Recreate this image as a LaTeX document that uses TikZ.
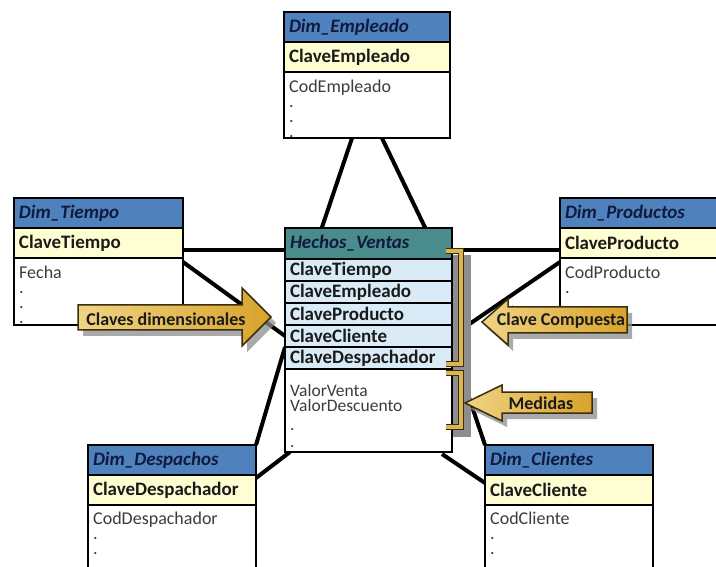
\documentclass[tikz,border=0pt]{standalone}
\usepackage{fontspec}
\setmainfont{Carlito}
\usetikzlibrary{calc}

\definecolor{hdrblue}{HTML}{4F81BD}
\definecolor{hdrteal}{HTML}{4A8B8B}
\definecolor{keyyellow}{HTML}{FFFDD2}
\definecolor{keyblue}{HTML}{D8EBF6}
\definecolor{navytext}{HTML}{101A3E}
\definecolor{keytext}{HTML}{1A1A1A}
\definecolor{bodytext}{HTML}{3C3C3C}
\definecolor{goldlight}{HTML}{F0D383}
\definecolor{golddark}{HTML}{D9A32C}
\definecolor{goldfill}{HTML}{DDB550}
\definecolor{goldedge}{HTML}{3A2E10}
\definecolor{shadowgray}{HTML}{8E8E8E}

\begin{document}
\begin{tikzpicture}[x=1pt,y=-1pt,
  tbl/.style={draw=black, line width=1.4pt, anchor=north west, outer sep=0pt,
    inner xsep=5pt, inner ysep=0pt, align=left},
  dimhdr/.style={tbl, fill=hdrblue, minimum height=30pt, text width=#1,
    font=\fontsize{19}{20}\selectfont\bfseries\itshape, text=navytext},
  factshdr/.style={dimhdr=#1, fill=hdrteal, minimum height=31pt},
  dimkey/.style={tbl, fill=keyyellow, minimum height=30pt, text width=#1,
    font=\fontsize{19}{20}\selectfont\bfseries, text=keytext},
  factkey/.style={dimkey=#1, fill=keyblue, minimum height=22pt},
  bodybox/.style={draw=black, line width=1.4pt, fill=white, anchor=north west,
    outer sep=0pt, inner sep=0pt, minimum width=#1},
  bodytxt/.style={anchor=north west, inner sep=0pt, align=left,
    font=\fontsize{18}{15}\selectfont, text=bodytext},
  link/.style={line width=4pt, black},
  callout/.style={draw=goldedge, line width=1.5pt, line join=miter,
    left color=goldlight, right color=golddark},
  calloutshadow/.style={fill=shadowgray, opacity=0.75},
  calltext/.style={inner sep=0pt, font=\fontsize{18}{20}\selectfont\bfseries, text=keytext},
  bracketedge/.style={line width=6.5pt, goldedge, line join=miter},
  bracketfill/.style={line width=3.8pt, goldfill, line join=miter}
]
\clip (0,0) rectangle (716,567);
\fill[white] (0,0) rectangle (716,567);

% ---------- dimension tables ----------
% Dim_Empleado
\node[dimhdr=156pt] (empH) at (284,12) {Dim\_Empleado};
\node[dimkey=156pt] (empK) at (empH.south west) {ClaveEmpleado};
\node[bodybox=166pt, minimum height=66pt] (empB) at (empK.south west) {};

% Dim_Tiempo
\node[dimhdr=159pt] (tmpH) at (14,198) {Dim\_Tiempo};
\node[dimkey=159pt] (tmpK) at (tmpH.south west) {ClaveTiempo};
\node[bodybox=169pt, minimum height=67pt] (tmpB) at (tmpK.south west) {};

% Dim_Productos
\node[dimhdr=160pt] (prdH) at (560,198) {Dim\_Productos};
\node[dimkey=160pt] (prdK) at (prdH.south west) {ClaveProducto};
\node[bodybox=170pt, minimum height=67pt] (prdB) at (prdK.south west) {};

% Dim_Despachos
\node[dimhdr=158pt] (desH) at (88,445) {Dim\_Despachos};
\node[dimkey=158pt] (desK) at (desH.south west) {ClaveDespachador};
\node[bodybox=168pt, minimum height=90pt] (desB) at (desK.south west) {};

% Dim_Clientes
\node[dimhdr=158pt] (cliH) at (485,445) {Dim\_Clientes};
\node[dimkey=158pt] (cliK) at (cliH.south west) {ClaveCliente};
\node[bodybox=168pt, minimum height=90pt] (cliB) at (cliK.south west) {};

% ---------- fact table frame (named first so links can use it) ----------
\path (285,228) coordinate (hecNW);
\node[factshdr=157pt] (hecH) at (hecNW) {Hechos\_Ventas};
\node[factkey=157pt] (hecK1) at (hecH.south west) {ClaveTiempo};
\node[factkey=157pt] (hecK2) at (hecK1.south west) {ClaveEmpleado};
\node[factkey=157pt] (hecK3) at (hecK2.south west) {ClaveProducto};
\node[factkey=157pt] (hecK4) at (hecK3.south west) {ClaveCliente};
\node[factkey=157pt] (hecK5) at (hecK4.south west) {ClaveDespachador};
\node[bodybox=167pt, minimum height=83pt] (hecB) at (hecK5.south west) {};

% ---------- relationship lines ----------
\draw[link] ($(empB.south west)!0.41!(empB.south east)$) -- ($(hecH.north west)!0.22!(hecH.north east)$);
\draw[link] ($(empB.south west)!0.59!(empB.south east)$) -- ($(hecH.north west)!0.84!(hecH.north east)$);
\draw[link] ($(tmpK.south east)+(0,-8)$) coordinate (tmpL) -- (tmpL -| hecH.west);
\draw[link] ($(prdK.south west)+(0,-8)$) coordinate (prdL) -- (prdL -| hecH.east);
\draw[link] ($(tmpB.north east)+(0,4)$) -- (hecK4.west);
\draw[link] ($(prdB.north west)+(0,4)$) -- (hecK4.east);
\draw[link] (hecK5.north west) -- (desH.north east);
\draw[link] ($(hecB.south west)+(5,0)$) -- ($(desK.north east)+(0,3)$);
\draw[link] (hecK5.north east) -- (cliH.north west);
\draw[link] ($(hecB.south east)+(-10,2)$) -- ($(cliK.north west)+(0,8)$);

% ---------- redraw tables over the line ends ----------
\node[dimhdr=156pt] at (empH.north west) {Dim\_Empleado};
\node[dimkey=156pt] at (empK.north west) {ClaveEmpleado};
\node[bodybox=166pt, minimum height=66pt] at (empB.north west) {};
\node[bodytxt] (empT) at ($(empB.north west)+(5,8)$) {CodEmpleado\\.\\.\\.};

\node[dimhdr=159pt] at (tmpH.north west) {Dim\_Tiempo};
\node[dimkey=159pt] at (tmpK.north west) {ClaveTiempo};
\node[bodybox=169pt, minimum height=67pt] at (tmpB.north west) {};
\node[bodytxt] (tmpT) at ($(tmpB.north west)+(5,8)$) {Fecha\\.\\.\\.};

\node[dimhdr=160pt] at (prdH.north west) {Dim\_Productos};
\node[dimkey=160pt] at (prdK.north west) {ClaveProducto};
\node[bodybox=170pt, minimum height=67pt] at (prdB.north west) {};
\node[bodytxt] (prdT) at ($(prdB.north west)+(5,8)$) {CodProducto\\.\\.\\.};

\node[dimhdr=158pt] at (desH.north west) {Dim\_Despachos};
\node[dimkey=158pt] at (desK.north west) {ClaveDespachador};
\node[bodybox=168pt, minimum height=90pt] at (desB.north west) {};
\node[bodytxt] (desT) at ($(desB.north west)+(5,7)$) {CodDespachador\\.\\.\\.};

\node[dimhdr=158pt] at (cliH.north west) {Dim\_Clientes};
\node[dimkey=158pt] at (cliK.north west) {ClaveCliente};
\node[bodybox=168pt, minimum height=90pt] at (cliB.north west) {};
\node[bodytxt] (cliT) at ($(cliB.north west)+(5,7)$) {CodCliente\\.\\.\\.};

% fact table with its drop shadow
\fill[shadowgray] ($(hecH.south east)+(0,-4)$) rectangle ($(hecB.south east)+(19,-15)$);
\node[factshdr=157pt] at (hecH.north west) {Hechos\_Ventas};
\node[factkey=157pt] at (hecK1.north west) {ClaveTiempo};
\node[factkey=157pt] at (hecK2.north west) {ClaveEmpleado};
\node[factkey=157pt] at (hecK3.north west) {ClaveProducto};
\node[factkey=157pt] at (hecK4.north west) {ClaveCliente};
\node[factkey=157pt] at (hecK5.north west) {ClaveDespachador};
\node[bodybox=167pt, minimum height=83pt] at (hecB.north west) {};
\node[bodytxt, font=\fontsize{17.5}{15}\selectfont] (hecT) at ($(hecB.north west)+(5,15)$)
  {ValorVenta\\ValorDescuento\\[4pt].\\[2pt].};

% ---------- brackets grouping the keys and the measures ----------
\draw[bracketedge] (446,251) -- (461,251) -- (461,364) -- (446,364);
\draw[bracketfill] (446,251) -- (461,251) -- (461,364) -- (446,364);
\draw[bracketedge] (446,373) -- (461,373) -- (461,427) -- (446,427);
\draw[bracketfill] (446,373) -- (461,373) -- (461,427) -- (446,427);

% ---------- callout arrows ----------
\fill[calloutshadow] (83,311) -- (247,311) -- (247,294) -- (276,323) -- (247,352) -- (247,336) -- (83,336) -- cycle;
\draw[callout] (78,305) -- (242,305) -- (242,288) -- (271,317) -- (242,346) -- (242,330) -- (78,330) -- cycle;
\node[calltext] (cdLbl) at (166,319) {Claves dimensionales};

\fill[calloutshadow] (632,313) -- (513,313) -- (513,305) -- (487,328) -- (513,351) -- (513,339) -- (632,339) -- cycle;
\draw[callout] (627,307) -- (508,307) -- (508,299) -- (482,322) -- (508,345) -- (508,333) -- (627,333) -- cycle;
\node[calltext] (ccLbl) at (561,321) {Clave Compuesta};

\fill[calloutshadow] (597,398) -- (507,398) -- (507,391) -- (470,409) -- (507,427) -- (507,419) -- (597,419) -- cycle;
\draw[callout] (592,392) -- (502,392) -- (502,385) -- (465,403) -- (502,421) -- (502,413) -- (592,413) -- cycle;
\node[calltext] (mdLbl) at (541,403) {Medidas};
\end{tikzpicture}
\end{document}
